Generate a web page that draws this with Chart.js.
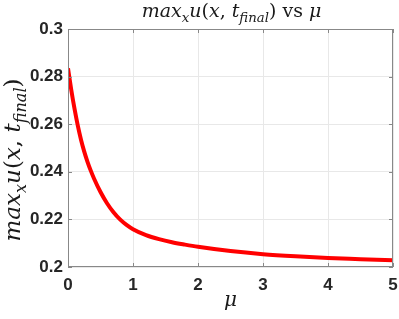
<!DOCTYPE html>
<html>
<head>
<meta charset="utf-8">
<script src="https://cdn.jsdelivr.net/npm/chart.js@4.4.1/dist/chart.umd.min.js"></script>
<style>
  html, body { margin: 0; padding: 0; background: #fff; }
  #wrap { width: 399px; height: 319px; }
</style>
</head>
<body>
<div id="wrap"><canvas id="muChart" width="399" height="319"></canvas></div>
<script>
// Values
const muValues = [0, 0.05, 0.1, 0.15, 0.2, 0.25, 0.3, 0.35, 0.4, 0.5, 0.6, 0.7, 0.8, 0.9, 1.0,
                  1.2, 1.4, 1.6, 1.8, 2.0, 2.5, 3.0, 3.5, 4.0, 4.5, 5.0];
const maxU = [0.2835, 0.2745, 0.2665, 0.2595, 0.2535, 0.2485, 0.2442, 0.2405, 0.2372, 0.2315,
              0.2268, 0.2230, 0.2200, 0.2177, 0.2159, 0.2134, 0.2117, 0.2104, 0.2094, 0.2085,
              0.2067, 0.2054, 0.2045, 0.2038, 0.2033, 0.2028];
const xTicks = [0, 1, 2, 3, 4, 5];
const yTicks = [0.2, 0.22, 0.24, 0.26, 0.28, 0.3];

const serif = '"DejaVu Serif", "Liberation Serif", serif';

// draw text pieces with subscripts, centred on (cx, cy)
function drawRich(ctx, parts, cx, cy, size) {
    const fontOf = p => (p.it ? 'italic ' : '') + (p.sub ? size * 0.7 : size) + 'px ' + serif;
    let total = 0;
    parts.forEach(p => { ctx.font = fontOf(p); total += ctx.measureText(p.t).width; });
    let x = cx - total / 2;
    ctx.textBaseline = 'alphabetic';
    ctx.textAlign = 'left';
    parts.forEach(p => {
        ctx.font = fontOf(p);
        ctx.fillText(p.t, x, cy + (p.sub ? size * 0.25 : 0));
        x += ctx.measureText(p.t).width;
    });
}

const labelParts = [
    { t: 'max', it: true }, { t: 'x', it: true, sub: true },
    { t: 'u', it: true }, { t: '(' }, { t: 'x', it: true }, { t: ', ' },
    { t: 't', it: true }, { t: 'final', it: true, sub: true }, { t: ')' }
];
const titleParts = labelParts.concat([{ t: ' vs ' }, { t: 'μ', it: true }]);

const boxPlugin = {
    id: 'matlabBox',
    afterDraw(chart) {
        const ctx = chart.ctx;
        const a = chart.chartArea;
        const xs = chart.scales.x, ys = chart.scales.y;
        ctx.save();
        ctx.strokeStyle = '#888888';
        ctx.lineWidth = 1;
        ctx.strokeRect(a.left + 0.5, a.top + 0.5, a.right - a.left - 1, a.bottom - a.top - 1);
        // inward ticks
        ctx.beginPath();
        xTicks.forEach(v => {
            const px = Math.round(xs.getPixelForValue(v)) + 0.5;
            ctx.moveTo(px, a.bottom); ctx.lineTo(px, a.bottom - 4);
            ctx.moveTo(px, a.top); ctx.lineTo(px, a.top + 4);
        });
        yTicks.forEach(v => {
            const py = Math.round(ys.getPixelForValue(v)) + 0.5;
            ctx.moveTo(a.left, py); ctx.lineTo(a.left + 4, py);
            ctx.moveTo(a.right, py); ctx.lineTo(a.right - 4, py);
        });
        ctx.stroke();

        ctx.fillStyle = '#1a1a1a';
        const midX = (a.left + a.right) / 2;
        drawRich(ctx, titleParts, midX + 1, 17, 19);
        drawRich(ctx, [{ t: 'μ', it: true }], midX, 306, 20);
        ctx.translate(20, (a.top + a.bottom) / 2 + 12);
        ctx.rotate(-Math.PI / 2);
        drawRich(ctx, labelParts, 0, 0, 23);
        ctx.restore();
    }
};

const tickFont = { family: '"Liberation Sans", Arial, sans-serif', size: 17, weight: 'bold' };

new Chart(document.getElementById('muChart').getContext('2d'), {
    type: 'line',
    data: {
        datasets: [{
            data: muValues.map((m, i) => ({ x: m, y: maxU[i] })),
            borderColor: '#ff0000',
            borderWidth: 4,
            pointRadius: 0,
            cubicInterpolationMode: 'monotone',
            fill: false
        }]
    },
    options: {
        responsive: false,
        animation: false,
        layout: { padding: { left: 0, right: 6, top: 29, bottom: 0 } },
        plugins: { legend: { display: false }, tooltip: { enabled: false } },
        scales: {
            x: {
                type: 'linear', min: 0, max: 5,
                afterBuildTicks: s => { s.ticks = xTicks.map(v => ({ value: v })); },
                afterFit: s => { s.height = 52; s.paddingLeft = 0; s.paddingRight = 0; },
                grid: { color: '#e8e8e8', drawTicks: false },
                border: { display: false },
                ticks: { font: tickFont, color: '#262626', padding: 8, maxRotation: 0 }
            },
            y: {
                type: 'linear', min: 0.2, max: 0.3,
                afterBuildTicks: s => { s.ticks = yTicks.map(v => ({ value: v })); },
                afterFit: s => { s.width = 68; s.paddingTop = 0; s.paddingBottom = 0; },
                grid: { color: '#e8e8e8', drawTicks: false },
                border: { display: false },
                ticks: {
                    font: tickFont, color: '#262626', padding: 5,
                    callback: v => String(+v.toFixed(2))
                }
            }
        }
    },
    plugins: [boxPlugin]
});
</script>
</body>
</html>
